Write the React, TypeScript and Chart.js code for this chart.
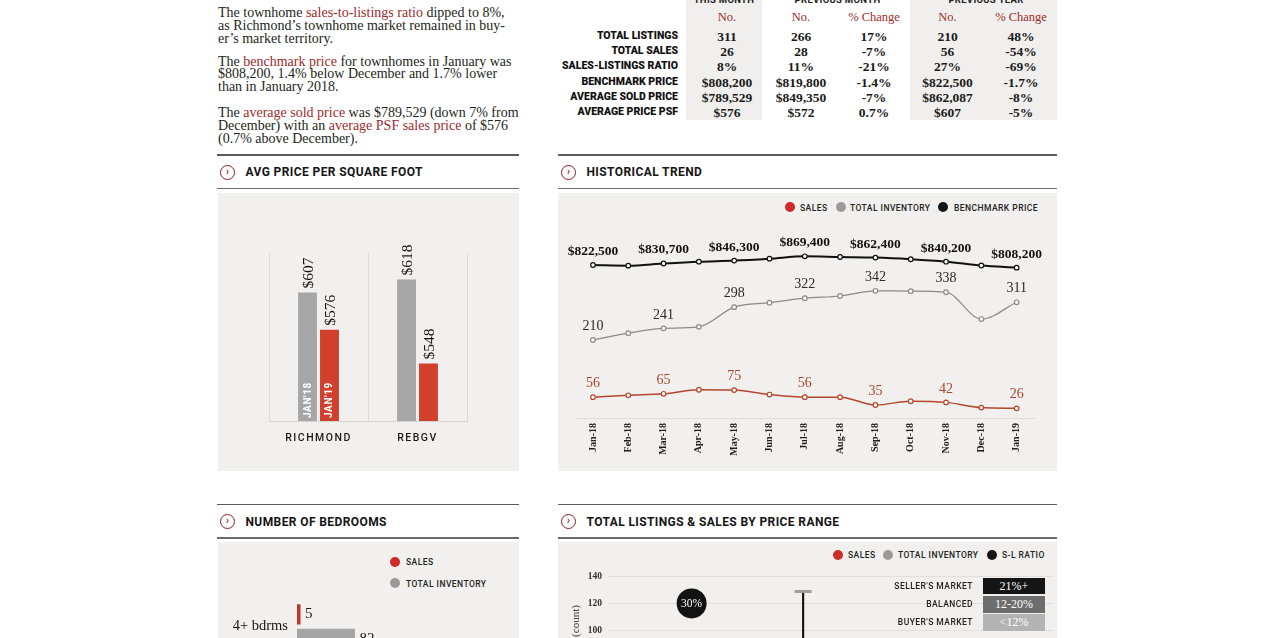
import React, { useEffect, useRef } from 'react';
import { Chart, registerables } from 'chart.js';
Chart.register(...registerables);

const SERIF = '"Liberation Serif", "Times New Roman", serif';
const SANS = 'Roboto, "Liberation Sans", sans-serif';
const RED_TEXT = '#9c2c2c';
const PANEL = '#f1f0ee';

// ---------- DATA ----------
const TABLE_ROW_LABELS = ['TOTAL LISTINGS', 'TOTAL SALES', 'SALES-LISTINGS RATIO', 'BENCHMARK PRICE', 'AVERAGE SOLD PRICE', 'AVERAGE PRICE PSF'];
const THIS_MONTH = ['311', '26', '8%', '$808,200', '$789,529', '$576'];
const PREV_MONTH = ['266', '28', '11%', '$819,800', '$849,350', '$572'];
const PREV_MONTH_CHANGE = ['17%', '-7%', '-21%', '-1.4%', '-7%', '0.7%'];
const PREV_YEAR = ['210', '56', '27%', '$822,500', '$862,087', '$607'];
const PREV_YEAR_CHANGE = ['48%', '-54%', '-69%', '-1.7%', '-8%', '-5%'];

const PSF_CATEGORIES = ['RICHMOND', 'REBGV'];
const PSF_SERIES = ["JAN'18", "JAN'19"];
const PSF_JAN18 = [607, 618];
const PSF_JAN19 = [576, 548];

const TREND_MONTHS = ['Jan-18', 'Feb-18', 'Mar-18', 'Apr-18', 'May-18', 'Jun-18', 'Jul-18', 'Aug-18', 'Sep-18', 'Oct-18', 'Nov-18', 'Dec-18', 'Jan-19'];
const TREND_SALES = [56, 61, 65, 76, 75, 63, 56, 56, 35, 45, 42, 28, 26];
const TREND_INVENTORY = [210, 228, 241, 245, 298, 310, 322, 328, 342, 341, 338, 266, 311];
const TREND_BENCHMARK = [822500, 819000, 830700, 840500, 846300, 856600, 869400, 865700, 862400, 853400, 840200, 819800, 808200];

const BEDROOM_CATEGORIES = ['4+ bdrms'];
const BEDROOM_SALES = [5];
const BEDROOM_INVENTORY = [82];

const PRICE_RANGE_BINS = ['1', '2', '3', '4', '5', '6', '7', '8'];
const PRICE_RANGE_INVENTORY = [null, null, null, 129, null, null, null, null];
const PRICE_RANGE_SL_RATIO = [null, 30, null, null, null, null, null, null];
const PRICE_RANGE_SL_RATIO_Y = [null, 120, null, null, null, null, null, null];
const PRICE_RANGE_MARKETS = ["SELLER'S MARKET", 'BALANCED', "BUYER'S MARKET"];
const PRICE_RANGE_MARKET_RANGES = ['21%+', '12-20%', '<12%'];

// ---------- helpers ----------
type Align = 'left' | 'center' | 'right';
function T({ x, y, children, align = 'left', style }: { x: number; y: number; children: React.ReactNode; align?: Align; style?: React.CSSProperties }) {
  const W = 600, H = 20;
  let left = x;
  if (align === 'center') left = x - W / 2;
  if (align === 'right') left = x - W;
  return (
    <div style={{ position: 'absolute', left, top: y - H / 2, width: W, height: H, lineHeight: H + 'px', textAlign: align, whiteSpace: 'nowrap', ...style }}>
      {children}
    </div>
  );
}

function Rect({ x, y, w, h, bg }: { x: number; y: number; w: number; h: number; bg: string }) {
  return <div style={{ position: 'absolute', left: x, top: y, width: w, height: h, background: bg }} />;
}

function Dot({ x, y, color, d = 10 }: { x: number; y: number; color: string; d?: number }) {
  return <div style={{ position: 'absolute', left: x - d / 2, top: y - d / 2, width: d, height: d, borderRadius: '50%', background: color }} />;
}

const legendText: React.CSSProperties = { fontFamily: SANS, fontWeight: 500, fontSize: 8.5, letterSpacing: 0.45, color: '#222' };

function SectionHeader({ x, w, y, title }: { x: number; w: number; y: number; title: string }) {
  return (
    <>
      <Rect x={x} y={y} w={w} h={1.6} bg="#5a5a5a" />
      <div style={{ position: 'absolute', left: x + 3, top: y + 10.5, width: 15, height: 15, boxSizing: 'border-box', border: '1.4px solid #8e1c1c', borderRadius: '50%', color: '#8e1c1c', fontFamily: SANS, fontWeight: 700, fontSize: 10, lineHeight: '12px', textAlign: 'center' }}>›</div>
      <T x={x + 28.5} y={y + 18} style={{ fontFamily: SANS, fontWeight: 700, fontSize: 12, letterSpacing: 0.4, color: '#151515' }}>{title}</T>
      <Rect x={x} y={y + 33.5} w={w} h={1.6} bg="#6a6a6a" />
    </>
  );
}

function ChartBox({ left, top, width, height, make }: { left: number; top: number; width: number; height: number; make: () => any }) {
  const ref = useRef<HTMLCanvasElement>(null);
  useEffect(() => {
    const chart = new Chart(ref.current as HTMLCanvasElement, make());
    return () => chart.destroy();
  }, []);
  return (
    <div style={{ position: 'absolute', left, top, width, height }}>
      <canvas ref={ref} width={width} height={height} style={{ width, height, display: 'block' }} />
    </div>
  );
}

// ---------- chart configs ----------
function psfConfig() {
  const plugin = {
    id: 'psfLabels',
    beforeDraw(chart: any) { chart.ctx.letterSpacing = '1.5px'; },
    beforeDatasetsDraw(chart: any) { chart.ctx.letterSpacing = '0px'; },
    afterDatasetsDraw(chart: any) {
      const ctx = chart.ctx;
      const bottom = chart.chartArea.bottom;
      chart.data.datasets.forEach((ds: any, di: number) => {
        const meta = chart.getDatasetMeta(di);
        meta.data.forEach((bar: any, i: number) => {
          const x = bar.x, y = bar.y;
          ctx.save();
          ctx.translate(x, y - 4);
          ctx.rotate(-Math.PI / 2);
          ctx.font = '15.5px "Liberation Serif"';
          ctx.fillStyle = '#151515';
          ctx.textAlign = 'left';
          ctx.textBaseline = 'middle';
          ctx.fillText('$' + ds.data[i], 0, 1);
          ctx.restore();
          if (i === 0) {
            ctx.save();
            ctx.translate(x, bottom - 3);
            ctx.rotate(-Math.PI / 2);
            ctx.font = '700 10px Roboto';
            ctx.letterSpacing = '0.6px';
            ctx.fillStyle = '#ffffff';
            ctx.textAlign = 'left';
            ctx.textBaseline = 'middle';
            ctx.fillText(String(ds.label), 0, 0.5);
            ctx.letterSpacing = '0px';
            ctx.restore();
          }
        });
      });
    },
  };
  return {
    type: 'bar',
    data: {
      labels: PSF_CATEGORIES,
      datasets: [
        { label: PSF_SERIES[0], data: PSF_JAN18, backgroundColor: '#a7a6a6' },
        { label: PSF_SERIES[1], data: PSF_JAN19, backgroundColor: '#d13f2d' },
      ],
    },
    options: {
      animation: false,
      responsive: false,
      events: [],
      layout: { padding: { left: 51, right: 52, top: 60, bottom: 20 } },
      datasets: { bar: { categoryPercentage: 0.444, barPercentage: 0.86 } },
      plugins: { legend: { display: false }, tooltip: { enabled: false } },
      scales: {
        x: {
          offset: true,
          grid: { display: true, offset: true, drawTicks: false, color: '#dddbd8', lineWidth: 1 },
          border: { display: true, color: '#d6d4d1', width: 1 },
          ticks: { padding: 11, color: '#1a1a1a', font: { family: 'Roboto', weight: '500', size: 10.5 } },
          afterFit: (s: any) => { s.height = 30; },
        },
        y: { display: false, min: 500, max: 640 },
      },
    },
    plugins: [plugin],
  };
}

function trendConfig() {
  const styles = [
    { font: '14px "Liberation Serif"', color: '#a8432b', fmt: (v: number) => String(v) },
    { font: '14px "Liberation Serif"', color: '#2a2a2a', fmt: (v: number) => String(v) },
    { font: 'bold 13.5px "Liberation Serif"', color: '#111111', fmt: (v: number) => '$' + v.toLocaleString('en-US') },
  ];
  const plugin = {
    id: 'trendLabels',
    afterDatasetsDraw(chart: any) {
      const ctx = chart.ctx;
      chart.data.datasets.forEach((ds: any, di: number) => {
        const meta = chart.getDatasetMeta(di);
        const st = styles[di];
        meta.data.forEach((pt: any, i: number) => {
          if (i % 2 !== 0) return;
          ctx.save();
          ctx.font = st.font;
          ctx.fillStyle = st.color;
          ctx.textAlign = 'center';
          ctx.textBaseline = 'middle';
          ctx.fillText(st.fmt(ds.data[i]), pt.x, pt.y - 13.5);
          ctx.restore();
        });
      });
    },
  };
  const line = (label: string, data: number[], color: string, width: number, axis: string) => ({
    type: 'line',
    label,
    data,
    yAxisID: axis,
    borderColor: color,
    borderWidth: width,
    cubicInterpolationMode: 'monotone',
    pointRadius: 2.3,
    pointBorderWidth: 1.2,
    pointBorderColor: color,
    pointBackgroundColor: '#ffffff',
    fill: false,
  });
  return {
    type: 'line',
    data: {
      labels: TREND_MONTHS,
      datasets: [
        line('SALES', TREND_SALES, '#b5452c', 1.5, 'y'),
        line('TOTAL INVENTORY', TREND_INVENTORY, '#8a8a8a', 1.2, 'y'),
        line('BENCHMARK PRICE', TREND_BENCHMARK, '#111111', 2, 'y2'),
      ],
    },
    options: {
      animation: false,
      responsive: false,
      events: [],
      layout: { padding: { left: 17.3, right: 22.7, top: 39, bottom: 8 } },
      plugins: { legend: { display: false }, tooltip: { enabled: false } },
      scales: {
        x: {
          offset: true,
          grid: { display: false, drawTicks: false },
          border: { display: true, color: '#dedcd9', width: 1 },
          ticks: { autoSkip: false, minRotation: 90, maxRotation: 90, padding: 5, color: '#1e1e1e', font: { family: 'Liberation Serif', weight: 'bold', size: 10 } },
          afterFit: (s: any) => { s.height = 45; },
        },
        y: { display: false, min: 0, max: 500 },
        y2: { display: false, min: 0, max: 1000000 },
      },
    },
    plugins: [plugin],
  };
}

function bedroomConfig() {
  const plugin = {
    id: 'bedLabels',
    afterDatasetsDraw(chart: any) {
      const ctx = chart.ctx;
      chart.data.datasets.forEach((ds: any, di: number) => {
        chart.getDatasetMeta(di).data.forEach((bar: any, i: number) => {
          ctx.save();
          ctx.font = '15px "Liberation Serif"';
          ctx.fillStyle = '#1a1a1a';
          ctx.textAlign = 'left';
          ctx.textBaseline = 'middle';
          ctx.fillText(String(ds.data[i]), bar.x + 4.5, bar.y);
          ctx.restore();
        });
      });
    },
  };
  return {
    type: 'bar',
    data: {
      labels: BEDROOM_CATEGORIES,
      datasets: [
        { label: 'SALES', data: BEDROOM_SALES, backgroundColor: '#b83a2a' },
        { label: 'TOTAL INVENTORY', data: BEDROOM_INVENTORY, backgroundColor: '#a6a5a5' },
      ],
    },
    options: {
      indexAxis: 'y',
      animation: false,
      responsive: false,
      events: [],
      layout: { padding: { left: 0, right: 10, top: 55, bottom: 10 } },
      datasets: { bar: { categoryPercentage: 0.8, barPercentage: 0.8333 } },
      plugins: { legend: { display: false }, tooltip: { enabled: false } },
      scales: {
        x: { display: false, min: 0, max: 300 },
        y: {
          grid: { display: false, drawTicks: false },
          border: { display: false },
          ticks: { padding: 9, color: '#141414', font: { family: 'Liberation Serif', size: 14.5 } },
          afterFit: (s: any) => { s.width = 79; },
        },
      },
    },
    plugins: [plugin],
  };
}

function priceRangeConfig() {
  const plugin = {
    id: 'ratioLabels',
    afterDatasetsDraw(chart: any) {
      const ctx = chart.ctx;
      const meta = chart.getDatasetMeta(1);
      meta.data.forEach((pt: any, i: number) => {
        const r = PRICE_RANGE_SL_RATIO[i];
        if (r == null) return;
        ctx.save();
        ctx.font = '11.5px "Liberation Serif"';
        ctx.fillStyle = '#ffffff';
        ctx.textAlign = 'center';
        ctx.textBaseline = 'middle';
        ctx.fillText(r + '%', pt.x, pt.y + 0.5);
        ctx.restore();
      });
    },
  };
  return {
    type: 'bar',
    data: {
      labels: PRICE_RANGE_BINS,
      datasets: [
        {
          type: 'line', label: 'TOTAL INVENTORY', data: PRICE_RANGE_INVENTORY, showLine: false,
          pointStyle: 'line', pointRadius: 8.5, pointBorderWidth: 3, borderColor: '#9d9d9d', backgroundColor: '#9d9d9d',
        },
        {
          type: 'line', label: 'S-L RATIO', data: PRICE_RANGE_SL_RATIO_Y, showLine: false,
          pointRadius: 15, pointBorderWidth: 0, pointBackgroundColor: '#131313', borderColor: '#131313',
        },
        { type: 'bar', label: 'stem', data: PRICE_RANGE_INVENTORY, backgroundColor: '#151515', barThickness: 1.5 },
      ],
    },
    options: {
      animation: false,
      responsive: false,
      events: [],
      layout: { padding: { left: 0, right: 3, top: 35.7, bottom: 37.4 } },
      plugins: { legend: { display: false }, tooltip: { enabled: false } },
      scales: {
        x: { display: false, offset: true },
        y: {
          min: 0, max: 140,
          grid: { drawTicks: false, color: '#e2e0dd', lineWidth: 1 },
          border: { display: false },
          ticks: { stepSize: 20, padding: 6, color: '#333', font: { family: 'Liberation Serif', weight: 'bold', size: 9.5 } },
          afterFit: (s: any) => { s.width = 50; },
        },
      },
    },
    plugins: [plugin],
  };
}

// ---------- App ----------
const bodyStyle: React.CSSProperties = { position: 'absolute', left: 218, fontFamily: SERIF, fontSize: 14, lineHeight: '12.7px', color: '#231f20', whiteSpace: 'nowrap' };
const hl: React.CSSProperties = { color: RED_TEXT };
const tableLabel: React.CSSProperties = { fontFamily: SANS, fontWeight: 900, fontSize: 10.5, color: '#111' };
const tableNum: React.CSSProperties = { fontFamily: SERIF, fontWeight: 700, fontSize: 13.5, color: '#1a1a1a' };
const tableHead: React.CSSProperties = { fontFamily: SERIF, fontSize: 12.5, color: RED_TEXT };
const colHead: React.CSSProperties = { fontFamily: SANS, fontWeight: 700, fontSize: 9.5, letterSpacing: 0.3, color: '#222' };

export default function App() {
  const rowY = (i: number) => 37 + i * 15.2;
  return (
    <div style={{ position: 'absolute', left: 0, top: 0, width: 1275, height: 638, overflow: 'hidden', background: '#ffffff' }}>
      {/* intro text */}
      <div style={{ ...bodyStyle, top: 7.2 }}>
        The townhome <span style={hl}>sales-to-listings ratio</span> dipped to 8%,<br />
        as Richmond’s townhome market remained in buy-<br />
        er’s market territory.
      </div>
      <div style={{ ...bodyStyle, top: 55.6 }}>
        The <span style={hl}>benchmark price</span> for townhomes in January was<br />
        $808,200, 1.4% below December and 1.7% lower<br />
        than in January 2018.
      </div>
      <div style={{ ...bodyStyle, top: 107.2 }}>
        The <span style={hl}>average sold price</span> was $789,529 (down 7% from<br />
        December) with an <span style={hl}>average PSF sales price</span> of $576<br />
        (0.7% above December).
      </div>

      {/* summary table */}
      <Rect x={686} y={0} w={76} h={120} bg="#f1efed" />
      <Rect x={910} y={0} w={147} h={120} bg="#f1efed" />
      <T x={724} y={0} align="center" style={colHead}>THIS MONTH</T>
      <T x={837.5} y={0} align="center" style={colHead}>PREVIOUS MONTH</T>
      <T x={986} y={0} align="center" style={colHead}>PREVIOUS YEAR</T>
      <T x={727} y={16.7} align="center" style={tableHead}>No.</T>
      <T x={801} y={16.7} align="center" style={tableHead}>No.</T>
      <T x={874} y={16.7} align="center" style={tableHead}>% Change</T>
      <T x={947.5} y={16.7} align="center" style={tableHead}>No.</T>
      <T x={1021} y={16.7} align="center" style={tableHead}>% Change</T>
      {TABLE_ROW_LABELS.map((l, i) => (
        <React.Fragment key={l}>
          <T x={678} y={rowY(i) - 1} align="right" style={tableLabel}>{l}</T>
          <T x={727} y={rowY(i)} align="center" style={tableNum}>{THIS_MONTH[i]}</T>
          <T x={801} y={rowY(i)} align="center" style={tableNum}>{PREV_MONTH[i]}</T>
          <T x={874} y={rowY(i)} align="center" style={tableNum}>{PREV_MONTH_CHANGE[i]}</T>
          <T x={947.5} y={rowY(i)} align="center" style={tableNum}>{PREV_YEAR[i]}</T>
          <T x={1021} y={rowY(i)} align="center" style={tableNum}>{PREV_YEAR_CHANGE[i]}</T>
        </React.Fragment>
      ))}

      {/* AVG PRICE PER SQUARE FOOT */}
      <SectionHeader x={217} w={302} y={154} title="AVG PRICE PER SQUARE FOOT" />
      <Rect x={218} y={193} w={301} h={278} bg={PANEL} />
      <ChartBox left={218} top={193} width={301} height={278} make={psfConfig} />

      {/* HISTORICAL TREND */}
      <SectionHeader x={558} w={499} y={154} title="HISTORICAL TREND" />
      <Rect x={558} y={193} w={499} h={278} bg={PANEL} />
      <Dot x={790} y={207.3} color="#cf2a2a" />
      <T x={800} y={207.5} style={legendText}>SALES</T>
      <Dot x={841} y={207.3} color="#9a9a9a" />
      <T x={850} y={207.5} style={legendText}>TOTAL INVENTORY</T>
      <Dot x={943.3} y={207.3} color="#151515" />
      <T x={954} y={207.5} style={legendText}>BENCHMARK PRICE</T>
      <ChartBox left={558} top={193} width={499} height={278} make={trendConfig} />

      {/* NUMBER OF BEDROOMS */}
      <SectionHeader x={217} w={302} y={503.5} title="NUMBER OF BEDROOMS" />
      <Rect x={218} y={541.5} w={301} h={120} bg={PANEL} />
      <Dot x={395} y={561.7} color="#cf2a2a" />
      <T x={406} y={562} style={legendText}>SALES</T>
      <Dot x={395} y={583.3} color="#9a9a9a" />
      <T x={406} y={583.5} style={legendText}>TOTAL INVENTORY</T>
      <ChartBox left={218} top={541} width={301} height={134} make={bedroomConfig} />

      {/* TOTAL LISTINGS & SALES BY PRICE RANGE */}
      <SectionHeader x={558} w={499} y={503.5} title="TOTAL LISTINGS & SALES BY PRICE RANGE" />
      <Rect x={558} y={541.5} w={499} h={120} bg={PANEL} />
      <Dot x={838.3} y={555} color="#cf2a2a" />
      <T x={848} y={555.2} style={legendText}>SALES</T>
      <Dot x={888} y={555} color="#9a9a9a" />
      <T x={898} y={555.2} style={legendText}>TOTAL INVENTORY</T>
      <Dot x={992.3} y={555} color="#151515" />
      <T x={1002} y={555.2} style={legendText}>S-L RATIO</T>
      <ChartBox left={558} top={541} width={511} height={260} make={priceRangeConfig} />
      <div style={{ position: 'absolute', left: 575 - 30, top: 621 - 8, width: 60, height: 16, lineHeight: '16px', textAlign: 'center', transform: 'rotate(-90deg)', fontFamily: SERIF, fontSize: 11, color: '#333' }}>(count)</div>
      {PRICE_RANGE_MARKETS.map((m, i) => {
        const top = [577.7, 596, 614][i];
        const bg = ['#151515', '#6d6d6d', '#b3b3b3'][i];
        return (
          <React.Fragment key={m}>
            <T x={973} y={top + 8.3} align="right" style={legendText}>{m}</T>
            <div style={{ position: 'absolute', left: 983, top, width: 62, height: 16.5, background: bg, color: '#fff', fontFamily: SERIF, fontSize: 12, lineHeight: '16.5px', textAlign: 'center' }}>{PRICE_RANGE_MARKET_RANGES[i]}</div>
          </React.Fragment>
        );
      })}
      <Rect x={1057} y={541} w={20} h={100} bg="#ffffff" />
    </div>
  );
}
